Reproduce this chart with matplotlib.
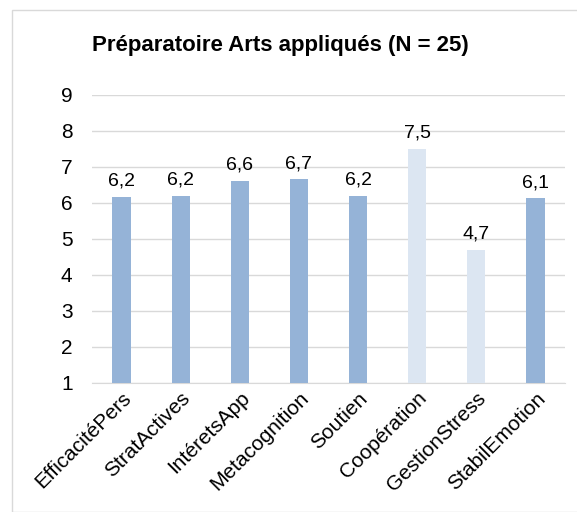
import matplotlib.pyplot as plt
from matplotlib.patches import Rectangle

categories = ["EfficacitéPers", "StratActives", "IntéretsApp", "Metacognition",
              "Soutien", "Coopération", "GestionStress", "StabilEmotion"]
values = [6.18, 6.19, 6.62, 6.66, 6.2, 7.5, 4.7, 6.13]
labels = ["6,2", "6,2", "6,6", "6,7", "6,2", "7,5", "4,7", "6,1"]
light = [False, False, False, False, False, True, True, False]

plt.rcParams['font.family'] = ['Liberation Sans', 'DejaVu Sans']

fig = plt.figure(figsize=(5.77, 5.12), dpi=100)
fig.patches.append(Rectangle((12 / 577, 0), 1, 1 - 10 / 512, transform=fig.transFigure,
                             fill=False, edgecolor='#d9d9d9', linewidth=1))
ax = fig.add_axes([92 / 577, 1 - 383 / 512, (565 - 92) / 577, (383 - 95) / 512])

colors = ['#dce6f2' if l else '#95b3d7' for l in light]
x = range(len(categories))
ax.bar(x, [v - 1 for v in values], bottom=1, width=0.31, color=colors, zorder=3)
for i, (v, t) in enumerate(zip(values, labels)):
    ax.text(i, v + 0.2, t, ha='center', va='bottom', fontsize=14)

ax.set_ylim(1, 9)
ax.set_xlim(-0.5, len(categories) - 0.5)
ax.set_yticks(range(1, 10))
ax.grid(axis='y', color='#d9d9d9', linewidth=1, zorder=0)
for s in ['top', 'right', 'left']:
    ax.spines[s].set_visible(False)
ax.spines['bottom'].set_color('#d9d9d9')
ax.tick_params(axis='y', length=0, labelsize=15, pad=14)
ax.tick_params(axis='x', length=0, labelsize=15, pad=4)
ax.set_xticks(list(x))
ax.set_xticklabels(categories, rotation=45, ha='right', rotation_mode='anchor')

fig.text(280 / 577, 1 - 45 / 512, "Préparatoire Arts appliqués (N = 25)",
         ha='center', va='center', fontsize=16, fontweight='bold')

fig.savefig("out.png", dpi=100)
